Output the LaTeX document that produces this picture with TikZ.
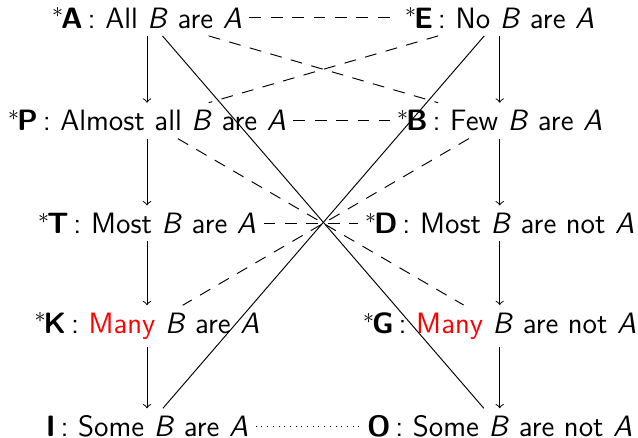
\documentclass[tikz,border=0pt]{standalone}
\usepackage{tikz}
\usetikzlibrary{positioning}
\newcommand{\st}{${}^{\ast}\mkern-2mu$}
\newcommand{\Bv}{\textit{B}}
\newcommand{\Av}{\textit{A}}
\begin{document}
\begin{tikzpicture}[x=1cm,y=1cm,
 prop/.style={font=\sffamily\fontsize{12.4}{15}\selectfont,inner sep=3pt},
 imp/.style={->,draw=black,line width=.4pt},
 contra/.style={draw=black,line width=.4pt},
 contr/.style={dashed,draw=black,line width=.4pt,dash pattern=on 5pt off 4pt},
 subc/.style={dotted,draw=black,line width=.4pt}]
\useasboundingbox (-2.176,0.266) rectangle (7.267,-6.216);
% left column
\node[prop] (a) at (0,0) {\st\textbf{A}\,: All \Bv{} are \Av};
\node[prop] (p) at (0,-1.52) {\st\textbf{P}\,: Almost all \Bv{} are \Av};
\node[prop] (t) at (0,-3.04) {\st\textbf{T}\,: Most \Bv{} are \Av};
\node[prop] (k) at (0,-4.56) {\st\textbf{K}\,: \textcolor{red}{Many} \Bv{} are \Av};
\node[prop] (i) at (0,-6.05) {\textbf{I}\,: Some \Bv{} are \Av};
% right column
\node[prop] (e) at (5.22,0) {\st\textbf{E}\,: No \Bv{} are \Av};
\node[prop] (b) at (5.22,-1.52) {\st\textbf{B}\,: Few \Bv{} are \Av};
\node[prop] (d) at (5.22,-3.04) {\st\textbf{D}\,: Most \Bv{} are not \Av};
\node[prop] (g) at (5.22,-4.56) {\st\textbf{G}\,: \textcolor{red}{Many} \Bv{} are not \Av};
\node[prop] (o) at (5.22,-6.05) {\textbf{O}\,: Some \Bv{} are not \Av};
% implications
\draw[imp] (a)--(p); \draw[imp] (p)--(t); \draw[imp] (t)--(k); \draw[imp] (k)--(i);
\draw[imp] (e)--(b); \draw[imp] (b)--(d); \draw[imp] (d)--(g); \draw[imp] (g)--(o);
% contradictories
\draw[contra] (a)--(o); \draw[contra] (e)--(i);
% contraries
\draw[contr] (a)--(e); \draw[contr] (p)--(b); \draw[contr] (t)--(d);
\draw[contr] (a)--(b); \draw[contr] (e)--(p);
\draw[contr] (p)--(g); \draw[contr] (b)--(k);
% subcontraries
\draw[subc] (i)--(o);
\end{tikzpicture}
\end{document}
